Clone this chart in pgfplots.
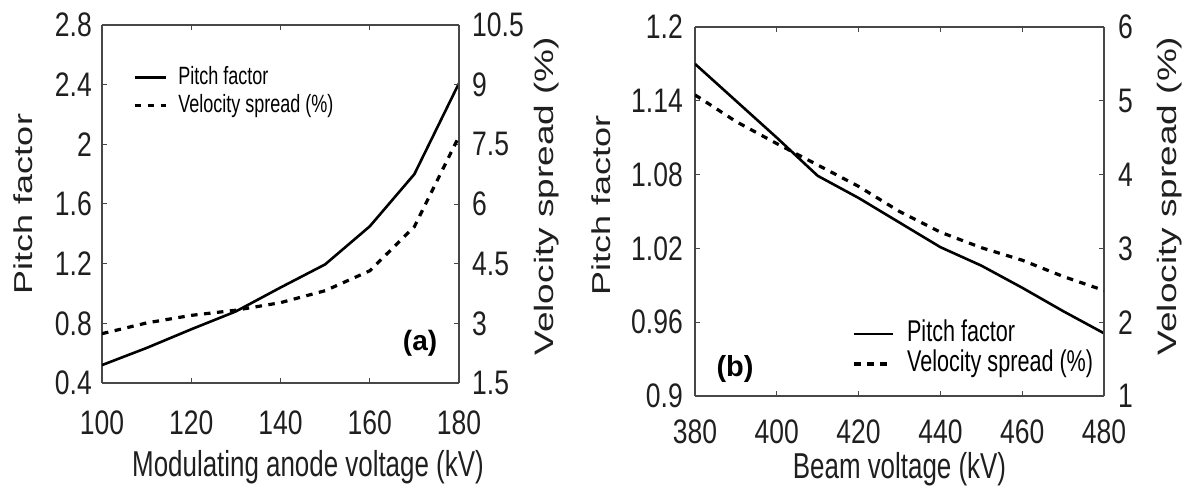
\documentclass[border=0pt]{standalone}
\usepackage{fontspec}
\setmainfont{Liberation Sans}[FakeStretch=0.72]
\newfontfamily\plainfont{Liberation Sans}
\newfontfamily\tickfam{Liberation Sans}[FakeStretch=0.78]
\usepackage{graphicx}
\usepackage{pgfplots}
\pgfplotsset{compat=1.18}

\newcommand{\tickfont}{\tickfam\fontsize{34}{34}\selectfont}
\newcommand{\labfont}{\fontsize{36}{36}\selectfont}

\pgfplotstableread{
x pf
100 0.52
110 0.635
120 0.76
130 0.88
140 1.04
150 1.195
160 1.45
170 1.80
180 2.41
}\tabApf
\pgfplotstableread{
x vs
100 2.74
110 3.01
120 3.20
130 3.33
140 3.52
150 3.82
160 4.32
170 5.43
180 7.70
}\tabAvs
\pgfplotstableread{
x pf
380 1.170
390 1.140
400 1.110
410 1.079
420 1.061
430 1.041
440 1.021
450 1.006
460 0.988
470 0.969
480 0.951
}\tabBpf
\pgfplotstableread{
x vs
380 5.08
390 4.72
400 4.42
410 4.13
420 3.84
430 3.50
440 3.22
450 3.01
460 2.84
470 2.62
480 2.43
}\tabBvs

\pgfplotsset{
  base/.style={
    scale only axis,
    tick align=inside,
    major tick length=5pt,
    axis line style={line width=1.2pt, color=black!72},
    every tick/.style={line width=1pt, color=black!72},
    ticklabel style={font=\tickfont, inner sep=0pt, text=black!88},
    label style={text=black!88},
  },
  solidc/.style={black, line width=2.6pt, line join=round},
  dashc/.style={black, line width=3.2pt, dash pattern=on 6.5pt off 6.5pt},
}

\begin{document}
\begin{tikzpicture}

% ---------------- panel (a) ----------------
\begin{axis}[base,
  at={(102pt,104pt)}, anchor=south west, width=357pt, height=358pt,
  xmin=100, xmax=180, ymin=0.4, ymax=2.8,
  axis y line*=left,
  xtick={100,120,140,160,180}, xticklabels={100,120,140,160,180},
  ytick={0.4,0.8,1.2,1.6,2.0,2.4,2.8}, yticklabels={0.4,0.8,1.2,1.6,2,2.4,2.8},
  yticklabel style={anchor=east, xshift=-10pt},
  xticklabel style={anchor=north, yshift=-28pt},
  xlabel={\labfont Modulating anode voltage (kV)},
  xlabel style={at={(axis description cs:0.577,-0.235)}, anchor=center},
  ylabel={\scalebox{1}[0.72]{\plainfont\labfont Pitch factor}},
  ylabel style={at={(axis description cs:-0.221,0.5)}, anchor=center},
  legend image code/.code={\draw[#1] (0pt,0pt) -- (31pt,0pt); \path (42pt,0pt);},
  legend style={draw=none, fill=none, inner sep=0pt, outer sep=0pt,
    font=\fontsize{25}{25}\selectfont,
    at={(axis description cs:0.087,0.885)}, anchor=north west,
    nodes={inner sep=0pt, font=\fontsize{25}{25}\selectfont, text height=18pt, text depth=5pt},
    row sep=5pt},
  legend cell align=left,
]
\addplot[solidc] table[x=x,y=pf] {\tabApf};
\addlegendentry{Pitch factor}
\addlegendimage{dashc}
\addlegendentry{Velocity spread (\%)}
\node[font=\plainfont\fontsize{28}{28}\selectfont\bfseries] at (axis description cs:0.891,0.112) {(a)};
\end{axis}
\begin{axis}[base,
  at={(102pt,104pt)}, anchor=south west, width=357pt, height=358pt,
  xmin=100, xmax=180, ymin=1.5, ymax=10.5,
  axis x line=none, axis y line*=right,
  ytick={1.5,3,4.5,6,7.5,9,10.5}, yticklabels={1.5,3,4.5,6,7.5,9,10.5},
  yticklabel style={anchor=west, xshift=13pt},
  ylabel={\scalebox{1}[0.72]{\plainfont\fontsize{37}{37}\selectfont Velocity spread (\%)}},
  ylabel style={at={(axis description cs:1.246,0.522)}, anchor=center, rotate=0},
]
\addplot[dashc] table[x=x,y=vs] {\tabAvs};
\end{axis}

% ---------------- panel (b) ----------------
\begin{axis}[base,
  at={(695pt,91pt)}, anchor=south west, width=409pt, height=369pt,
  xmin=380, xmax=480, ymin=0.9, ymax=1.2,
  axis y line*=left,
  xtick={380,400,420,440,460,480}, xticklabels={380,400,420,440,460,480},
  ytick={0.9,0.96,1.02,1.08,1.14,1.2}, yticklabels={0.9,0.96,1.02,1.08,1.14,1.2},
  yticklabel style={anchor=east, xshift=-12pt},
  xticklabel style={anchor=north, yshift=-24pt},
  xlabel={\labfont Beam voltage (kV)},
  xlabel style={at={(axis description cs:0.5,-0.198)}, anchor=center},
  ylabel={\scalebox{1}[0.72]{\plainfont\labfont Pitch factor}},
  ylabel style={at={(axis description cs:-0.230,0.515)}, anchor=center},
  legend image code/.code={\draw[#1] (0pt,0pt) -- (39pt,0pt); \path (51pt,0pt);},
  legend style={draw=none, fill=none, inner sep=0pt, outer sep=0pt,
    font=\fontsize{30}{30}\selectfont,
    at={(axis description cs:0.386,0.206)}, anchor=north west,
    nodes={inner sep=0pt, font=\fontsize{30}{30}\selectfont, text height=22pt, text depth=6pt},
    row sep=2pt},
  legend cell align=left,
]
\addplot[solidc] table[x=x,y=pf] {\tabBpf};
\addlegendentry{Pitch factor}
\addlegendimage{dashc}
\addlegendentry{Velocity spread (\%)}
\node[font=\plainfont\fontsize{29}{29}\selectfont\bfseries] at (axis description cs:0.098,0.073) {(b)};
\end{axis}
\begin{axis}[base,
  at={(695pt,91pt)}, anchor=south west, width=409pt, height=369pt,
  xmin=380, xmax=480, ymin=1, ymax=6,
  axis x line=none, axis y line*=right,
  ytick={1,2,3,4,5,6}, yticklabels={1,2,3,4,5,6},
  yticklabel style={anchor=west, xshift=14pt},
  ylabel={\scalebox{1}[0.72]{\plainfont\fontsize{37}{37}\selectfont Velocity spread (\%)}},
  ylabel style={at={(axis description cs:1.161,0.542)}, anchor=center, rotate=0},
]
\addplot[dashc] table[x=x,y=vs] {\tabBvs};
\end{axis}
\pgfresetboundingbox
\useasboundingbox (0pt,0pt) rectangle (1197pt,487pt);
\end{tikzpicture}
\end{document}
